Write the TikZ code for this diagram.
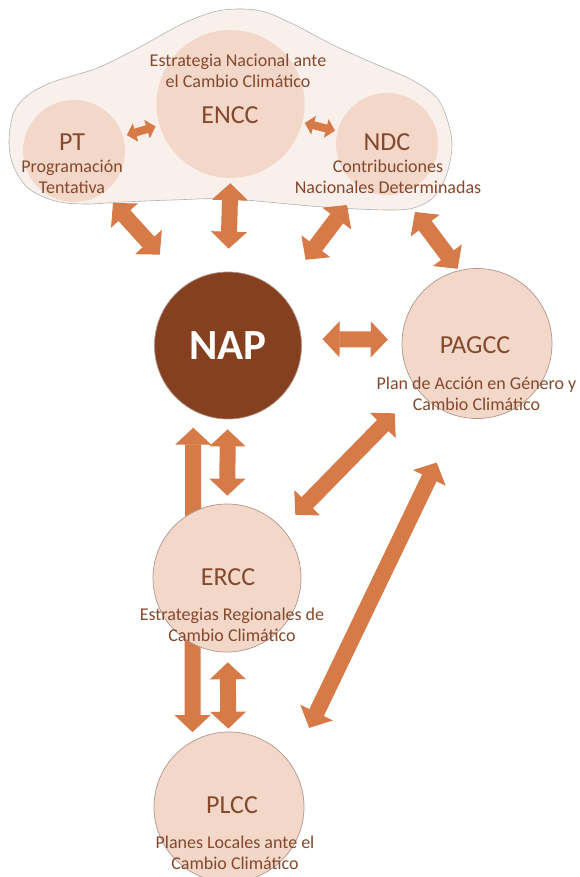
\documentclass[tikz,border=0pt]{standalone}
\usepackage{fontspec}
\setmainfont{Carlito}
\usetikzlibrary{arrows.meta}
\definecolor{arrowc}{RGB}{214,122,72}
\definecolor{peach}{RGB}{243,216,202}
\definecolor{cloudc}{RGB}{249,240,235}
\definecolor{rimc}{RGB}{176,150,140}
\definecolor{napc}{RGB}{132,64,31}
\definecolor{textc}{RGB}{132,72,44}
\pgfdeclarelayer{back}
\pgfsetlayers{back,main}

\begin{document}
\begin{tikzpicture}[x=1pt,y=-1pt,
   bubble/.style={circle,inner sep=0pt,fill=peach,draw=rimc,line width=0.7pt},
   inbubble/.style={circle,inner sep=0pt,fill=peach},
   acro/.style={text=textc,font=\fontsize{26}{30}\selectfont},
   desc/.style={text=textc,align=center,font=\fontsize{18}{21}\selectfont},
   blockarrow/.style={draw=arrowc,line width=16pt,
     {Triangle[width=36pt,length=17pt,line width=1pt]}-{Triangle[width=36pt,length=17pt,line width=1pt]}},
   smallarrow/.style={draw=arrowc,line width=8pt,
     {Triangle[width=19pt,length=9pt,line width=1pt]}-{Triangle[width=19pt,length=9pt,line width=1pt]}}]
\useasboundingbox (0,0) rectangle (580,877);

\draw[fill=cloudc,draw=gray!60,line width=0.6pt] plot[smooth cycle,tension=0.55] coordinates {
  (9,140) (14,112) (28,95) (50,83) (72,76) (100,67) (140,47) (180,25) (213,12)
  (240,9) (265,12) (295,25) (333,45) (373,63) (412,80) (437,98) (448,122)
  (452,145) (448,170) (438,192) (422,205) (395,210) (323,207) (230,199)
  (173,200) (123,202) (85,204) (55,201) (28,188) (13,165)};

\node[inbubble,minimum size=102pt] (pt) at (74,151) {};
\node[inbubble,minimum size=148pt] (encc) at (230.5,104) {};
\node[inbubble,minimum size=102pt] (ndc) at (387,144) {};
\node[acro] at (72,142) {PT};
\node[desc] at (72,177) {Programación\\Tentativa};
\node[acro] at (230,115) {ENCC};
\node[desc] at (238,70.5) {Estrategia Nacional ante\\el Cambio Climático};
\node[acro] at (387,142) {NDC};
\node[desc] at (388,176.5) {Contribuciones\\Nacionales Determinadas};

\node[circle,inner sep=0pt,fill=napc,draw=rimc,line width=0.7pt,minimum size=147pt,
  text=white,font=\fontsize{43}{48}\selectfont\bfseries] (nap) at (228,345.5) {NAP};
\node[bubble,minimum size=150pt] (pagcc) at (477,343.5) {};
\node[acro] at (475,345) {PAGCC};
\node[desc] at (476.5,394) {Plan de Acción en Género y\\Cambio Climático};
\node[bubble,minimum size=148pt] (ercc) at (227,578) {};
\node[acro] at (228,577) {ERCC};
\node[desc] at (232,624.5) {Estrategias Regionales de\\Cambio Climático};
\node[bubble,minimum size=150pt] (plcc) at (229,807) {};
\node[acro] at (232,805) {PLCC};
\node[desc] at (235,852.5) {Planes Locales ante el\\Cambio Climático};

\coordinate (cl-w) at (113,203);
\coordinate (cl-s) at (347,205);
\coordinate (cl-e) at (415,212);

\draw[smallarrow,shorten <=4pt,shorten >=4pt] (pt) -- (encc);
\draw[smallarrow,shorten <=2.5pt,shorten >=2.5pt] (encc) -- (ndc);
\draw[blockarrow,shorten >=40pt] (cl-w) -- (nap.124);
\draw[blockarrow,shorten <=5pt,shorten >=23pt] (encc.south) -- (nap.north);
\draw[blockarrow,shorten >=42pt] (cl-s) -- (nap.45);
\draw[blockarrow,shorten >=2pt] (cl-e) -- (pagcc.104);
\draw[blockarrow,shorten <=21pt,shorten >=14pt] (nap.5) -- (pagcc.177);
\draw[blockarrow,shorten <=10pt,shorten >=8pt] (nap) -- (ercc);
\draw[blockarrow,shorten <=10pt,shorten >=3pt] (ercc) -- (plcc);
\draw[blockarrow,shorten <=18.7pt,shorten >=32.8pt] (ercc.42) -- (pagcc.218);
\draw[blockarrow,shorten <=41pt,shorten >=51pt] (plcc.34) -- (pagcc.256);
\begin{pgfonlayer}{back}
\draw[blockarrow,shorten <=17pt,shorten >=9pt] (nap.242) -- (plcc.119);
\end{pgfonlayer}
\end{tikzpicture}
\end{document}
